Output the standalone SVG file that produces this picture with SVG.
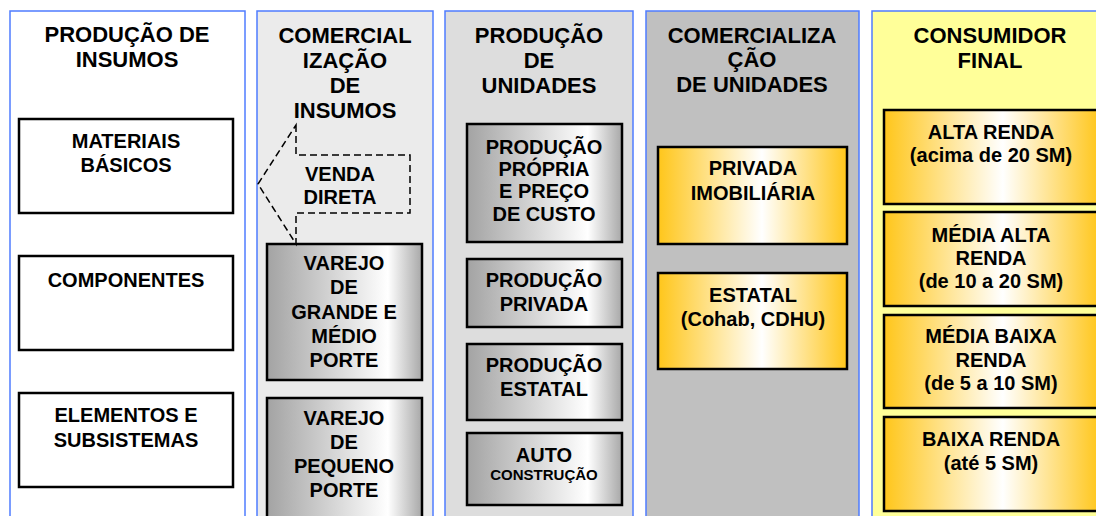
<svg xmlns="http://www.w3.org/2000/svg" width="1096" height="516" viewBox="0 0 1096 516">
<defs>
<linearGradient id="gGray" x1="0" y1="0" x2="1" y2="0">
<stop offset="0" stop-color="#a3a3a3"/>
<stop offset="0.78" stop-color="#ffffff"/>
<stop offset="1" stop-color="#a8a8a8"/>
</linearGradient>
<linearGradient id="gGold" x1="0" y1="0" x2="1" y2="0">
<stop offset="0" stop-color="#ffc61a"/>
<stop offset="0.55" stop-color="#ffffff"/>
<stop offset="1" stop-color="#ffc61a"/>
</linearGradient>
<style>
.col{stroke:#4f7cff;stroke-width:1.5}
.box{stroke:#000;stroke-width:2.5}
.t{font-family:"Liberation Sans",Arial,sans-serif;font-weight:bold;fill:#000;text-anchor:middle}
.h{font-size:22px}
.b{font-size:20px}
.s{font-size:15px}
.dash{fill:none;stroke:#000;stroke-width:1.5;stroke-dasharray:7,4}
</style>
</defs>
<rect width="1096" height="516" fill="#fff"/>

<g id="col1">
<rect class="col" x="10" y="11" width="235" height="520" fill="#fff"/>
<text class="t h" x="127" y="42">PRODUÇÃO DE</text>
<text class="t h" x="127" y="67">INSUMOS</text>
</g>
<g id="materiais">
<rect class="box" x="19" y="119" width="214" height="94" fill="#fff"/>
<text class="t b" x="126" y="148">MATERIAIS</text>
<text class="t b" x="126" y="172">BÁSICOS</text>
</g>
<g id="componentes">
<rect class="box" x="19" y="256" width="214" height="94" fill="#fff"/>
<text class="t b" x="126" y="287">COMPONENTES</text>
</g>
<g id="elementos">
<rect class="box" x="19" y="393" width="214" height="94" fill="#fff"/>
<text class="t b" x="126" y="422">ELEMENTOS E</text>
<text class="t b" x="126" y="447">SUBSISTEMAS</text>
</g>

<g id="col2">
<rect class="col" x="257" y="11" width="176" height="520" fill="#ebebeb"/>
<text class="t h" x="345" y="43">COMERCIAL</text>
<text class="t h" x="345" y="68">IZAÇÃO</text>
<text class="t h" x="345" y="93">DE</text>
<text class="t h" x="345" y="118">INSUMOS</text>
</g>
<g id="varejo-grande">
<rect class="box" x="267" y="244" width="155" height="136" fill="url(#gGray)"/>
<text class="t b" x="344" y="270">VAREJO</text>
<text class="t b" x="344" y="294">DE</text>
<text class="t b" x="344" y="319">GRANDE E</text>
<text class="t b" x="344" y="343">MÉDIO</text>
<text class="t b" x="344" y="367">PORTE</text>
</g>
<g id="varejo-pequeno">
<rect class="box" x="267" y="398" width="155" height="125" fill="url(#gGray)"/>
<text class="t b" x="344" y="425">VAREJO</text>
<text class="t b" x="344" y="449">DE</text>
<text class="t b" x="344" y="473">PEQUENO</text>
<text class="t b" x="344" y="497">PORTE</text>
</g>

<g id="col3">
<rect class="col" x="445" y="11" width="188" height="520" fill="#dddddd"/>
<text class="t h" x="539" y="43">PRODUÇÃO</text>
<text class="t h" x="539" y="68">DE</text>
<text class="t h" x="539" y="93">UNIDADES</text>
</g>
<g id="producao-propria">
<rect class="box" x="467" y="124" width="155" height="118" fill="url(#gGray)"/>
<text class="t b" x="544" y="154">PRODUÇÃO</text>
<text class="t b" x="544" y="176">PRÓPRIA</text>
<text class="t b" x="544" y="198">E PREÇO</text>
<text class="t b" x="544" y="221">DE CUSTO</text>
</g>
<g id="producao-privada">
<rect class="box" x="467" y="259" width="155" height="68" fill="url(#gGray)"/>
<text class="t b" x="544" y="287">PRODUÇÃO</text>
<text class="t b" x="544" y="311">PRIVADA</text>
</g>
<g id="producao-estatal">
<rect class="box" x="467" y="344" width="155" height="76" fill="url(#gGray)"/>
<text class="t b" x="544" y="372">PRODUÇÃO</text>
<text class="t b" x="544" y="396">ESTATAL</text>
</g>
<g id="auto-construcao">
<rect class="box" x="467" y="433" width="155" height="72" fill="url(#gGray)"/>
<text class="t b" x="544" y="462">AUTO</text>
<text class="t s" x="544" y="480">CONSTRUÇÃO</text>
</g>

<g id="col4">
<rect class="col" x="646" y="11" width="213" height="520" fill="#c0c0c0"/>
<text class="t h" x="752" y="43">COMERCIALIZA</text>
<text class="t h" x="752" y="67">ÇÃO</text>
<text class="t h" x="752" y="92">DE UNIDADES</text>
</g>
<g id="privada-imobiliaria">
<rect class="box" x="658" y="147" width="189" height="97" fill="url(#gGold)"/>
<text class="t b" x="753" y="175">PRIVADA</text>
<text class="t b" x="753" y="200">IMOBILIÁRIA</text>
</g>
<g id="estatal">
<rect class="box" x="658" y="273" width="189" height="96" fill="url(#gGold)"/>
<text class="t b" x="753" y="302">ESTATAL</text>
<text class="t b" x="753" y="326">(Cohab, CDHU)</text>
</g>

<g id="col5">
<rect class="col" x="872" y="11" width="240" height="520" fill="#ffff99"/>
<text class="t h" x="990" y="43">CONSUMIDOR</text>
<text class="t h" x="990" y="68">FINAL</text>
</g>
<g id="alta-renda">
<rect class="box" x="884" y="110" width="216" height="94" fill="url(#gGold)"/>
<text class="t b" x="991" y="139">ALTA RENDA</text>
<text class="t b" x="991" y="162">(acima de 20 SM)</text>
</g>
<g id="media-alta-renda">
<rect class="box" x="884" y="212" width="216" height="94" fill="url(#gGold)"/>
<text class="t b" x="991" y="242">MÉDIA ALTA</text>
<text class="t b" x="991" y="265">RENDA</text>
<text class="t b" x="991" y="288">(de 10 a 20 SM)</text>
</g>
<g id="media-baixa-renda">
<rect class="box" x="884" y="315" width="216" height="93" fill="url(#gGold)"/>
<text class="t b" x="991" y="343">MÉDIA BAIXA</text>
<text class="t b" x="991" y="367">RENDA</text>
<text class="t b" x="991" y="390">(de 5 a 10 SM)</text>
</g>
<g id="baixa-renda">
<rect class="box" x="884" y="417" width="216" height="94" fill="url(#gGold)"/>
<text class="t b" x="991" y="446">BAIXA RENDA</text>
<text class="t b" x="991" y="470">(até 5 SM)</text>
</g>

<g id="connectors">
<path class="dash" d="M296,125 V155 H410 V213 H296 V244 L258,184 Z"/>
<text class="t b" x="340" y="181">VENDA</text>
<text class="t b" x="340" y="204">DIRETA</text>
</g>
</svg>
